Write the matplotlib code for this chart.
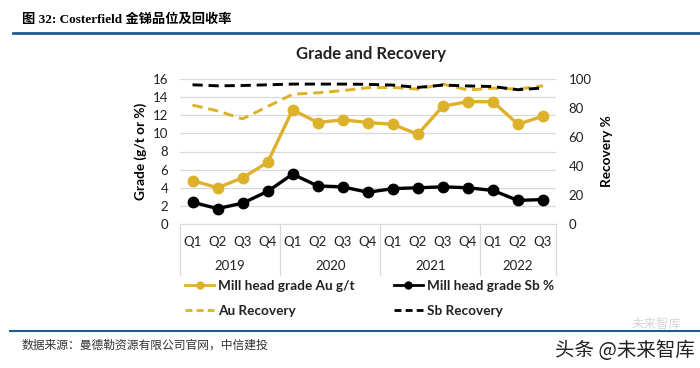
import matplotlib
matplotlib.use("Agg")
import matplotlib.pyplot as plt
import matplotlib.transforms as mtransforms
from matplotlib.lines import Line2D

plt.rcParams['font.family'] = ['Lato', 'Noto Sans CJK SC', 'DejaVu Sans']

# data
quarters = ["Q1", "Q2", "Q3", "Q4", "Q1", "Q2", "Q3", "Q4",
            "Q1", "Q2", "Q3", "Q4", "Q1", "Q2", "Q3"]
years = ["2019", "2020", "2021", "2022"]
year_sizes = [4, 4, 4, 3]
au_grade = [4.8, 4.0, 5.1, 6.8, 12.6, 11.2, 11.5, 11.2,
            11.0, 9.9, 13.0, 13.5, 13.5, 11.0, 11.9]
sb_grade = [2.4, 1.7, 2.3, 3.6, 5.5, 4.2, 4.1, 3.5,
            3.9, 4.0, 4.1, 4.0, 3.7, 2.6, 2.7]
au_recovery = [82.0, 78.0, 72.5, 81.0, 89.5, 90.5, 92.0, 94.0,
               94.2, 93.0, 96.5, 92.4, 93.7, 93.0, 95.3]
sb_recovery = [96.0, 95.3, 95.5, 96.0, 96.5, 96.5, 96.5, 96.3,
               95.8, 94.2, 95.8, 95.2, 94.8, 92.6, 93.8]

gold = "#DDB12A"
blue = "#1F5B8E"
text_col = "#222222"

fig = plt.figure(figsize=(7, 3.68), dpi=100)
ax = fig.add_axes([180 / 700, 1 - 224 / 368, 375.5 / 700, 145 / 368])
ax2 = ax.twinx()

x = list(range(len(quarters)))
ax.plot(x, au_grade, color=gold, lw=2.4, marker="o", ms=7.5, zorder=3)
ax.plot(x, sb_grade, color="black", lw=2.4, marker="o", ms=7.5, zorder=3)
ax2.plot(x, au_recovery, color=gold, lw=2.1, ls=(0, (3.5, 2)))
ax2.plot(x, sb_recovery, color="black", lw=2.1, ls=(0, (3.5, 2)))

ax.set_xlim(-0.5, len(quarters) - 0.5)
ax.set_ylim(0, 16)
ax.set_yticks(range(0, 17, 2))
ax2.set_ylim(0, 100)
ax2.set_yticks(range(0, 101, 20))
ax.yaxis.grid(True, color="#D9D9D9", lw=0.9)
ax.set_axisbelow(True)

for a in (ax, ax2):
    for s in a.spines.values():
        s.set_visible(False)
    a.tick_params(length=0, labelsize=9.5, colors=text_col)
ax.spines["bottom"].set_visible(True)
ax.spines["bottom"].set_color("#D9D9D9")

ax.set_xticks(x)
ax.set_xticklabels(quarters)
ax.tick_params(axis="x", pad=9)
ax.tick_params(axis="y", pad=8.5)
ax2.tick_params(axis="y", pad=9.5)

ax.set_ylabel("Grade (g/t or %)", fontsize=9.8, fontweight="bold", labelpad=4)
ax2.set_ylabel("Recovery %", fontsize=9.8, fontweight="bold", labelpad=7)

# year groups under the quarters
trans = mtransforms.blended_transform_factory(ax.transData, ax.transAxes)
start = -0.5
ax.plot([start, start], [0, -0.35], transform=trans, color="#D9D9D9", lw=0.9, clip_on=False)
for yr, n in zip(years, year_sizes):
    end = start + n
    ax.plot([end, end], [0, -0.35], transform=trans, color="#D9D9D9", lw=0.9, clip_on=False)
    ax.text((start + end) / 2, -0.29, yr, transform=trans, ha="center", va="center",
            fontsize=9.5, color=text_col)
    start = end

fig.text(371 / 700, 1 - 54 / 368, "Grade and Recovery", ha="center", va="center",
         fontsize=12, fontweight="bold", color=text_col)

handles = [
    Line2D([], [], color=gold, lw=2, marker="o", ms=5),
    Line2D([], [], color=gold, lw=2, ls=(0, (2.5, 1.5))),
    Line2D([], [], color="black", lw=2, marker="o", ms=5),
    Line2D([], [], color="black", lw=2, ls=(0, (2.5, 1.5))),
]
labels = ["Mill head grade Au g/t", "Au Recovery", "Mill head grade Sb %", "Sb Recovery"]
leg = fig.legend(handles, labels, ncol=2, loc="upper left",
                 bbox_to_anchor=(173 / 700, 1 - 268 / 368), frameon=False,
                 prop={"weight": "bold", "size": 9.8}, handlelength=2.1,
                 handletextpad=0.3, columnspacing=2.9, labelspacing=0.95)
for t in leg.get_texts():
    t.set_color(text_col)

# report header and footer
fig.text(22 / 700, 1 - 20 / 368, "图 32: Costerfield 金锑品位及回收率", ha="left", va="center",
         fontsize=9.5, fontweight="bold", family=["Liberation Serif", "Noto Sans CJK SC"])
fig.add_artist(Line2D([13 / 700, 1], [1 - 33 / 368] * 2, color=blue, lw=2))
fig.add_artist(Line2D([10 / 700, 1], [1 - 331 / 368] * 2, color=blue, lw=1.5))
fig.text(22 / 700, 1 - 345 / 368, "数据来源：曼德勒资源有限公司官网，中信建投", ha="left", va="center",
         fontsize=8.5, style="italic", color="#333333", family=["Noto Sans CJK SC"])
fig.text(695 / 700, 1 - 351 / 368, "头条 @未来智库", ha="right", va="center",
         fontsize=14, color=text_col, family=["Noto Sans CJK SC"])
fig.text(682 / 700, 1 - 324 / 368, "未来智库", ha="right", va="center",
         fontsize=9, color="#BBBBBB", alpha=0.6, family=["Noto Sans CJK SC"])

fig.savefig("out.png", dpi=100)
